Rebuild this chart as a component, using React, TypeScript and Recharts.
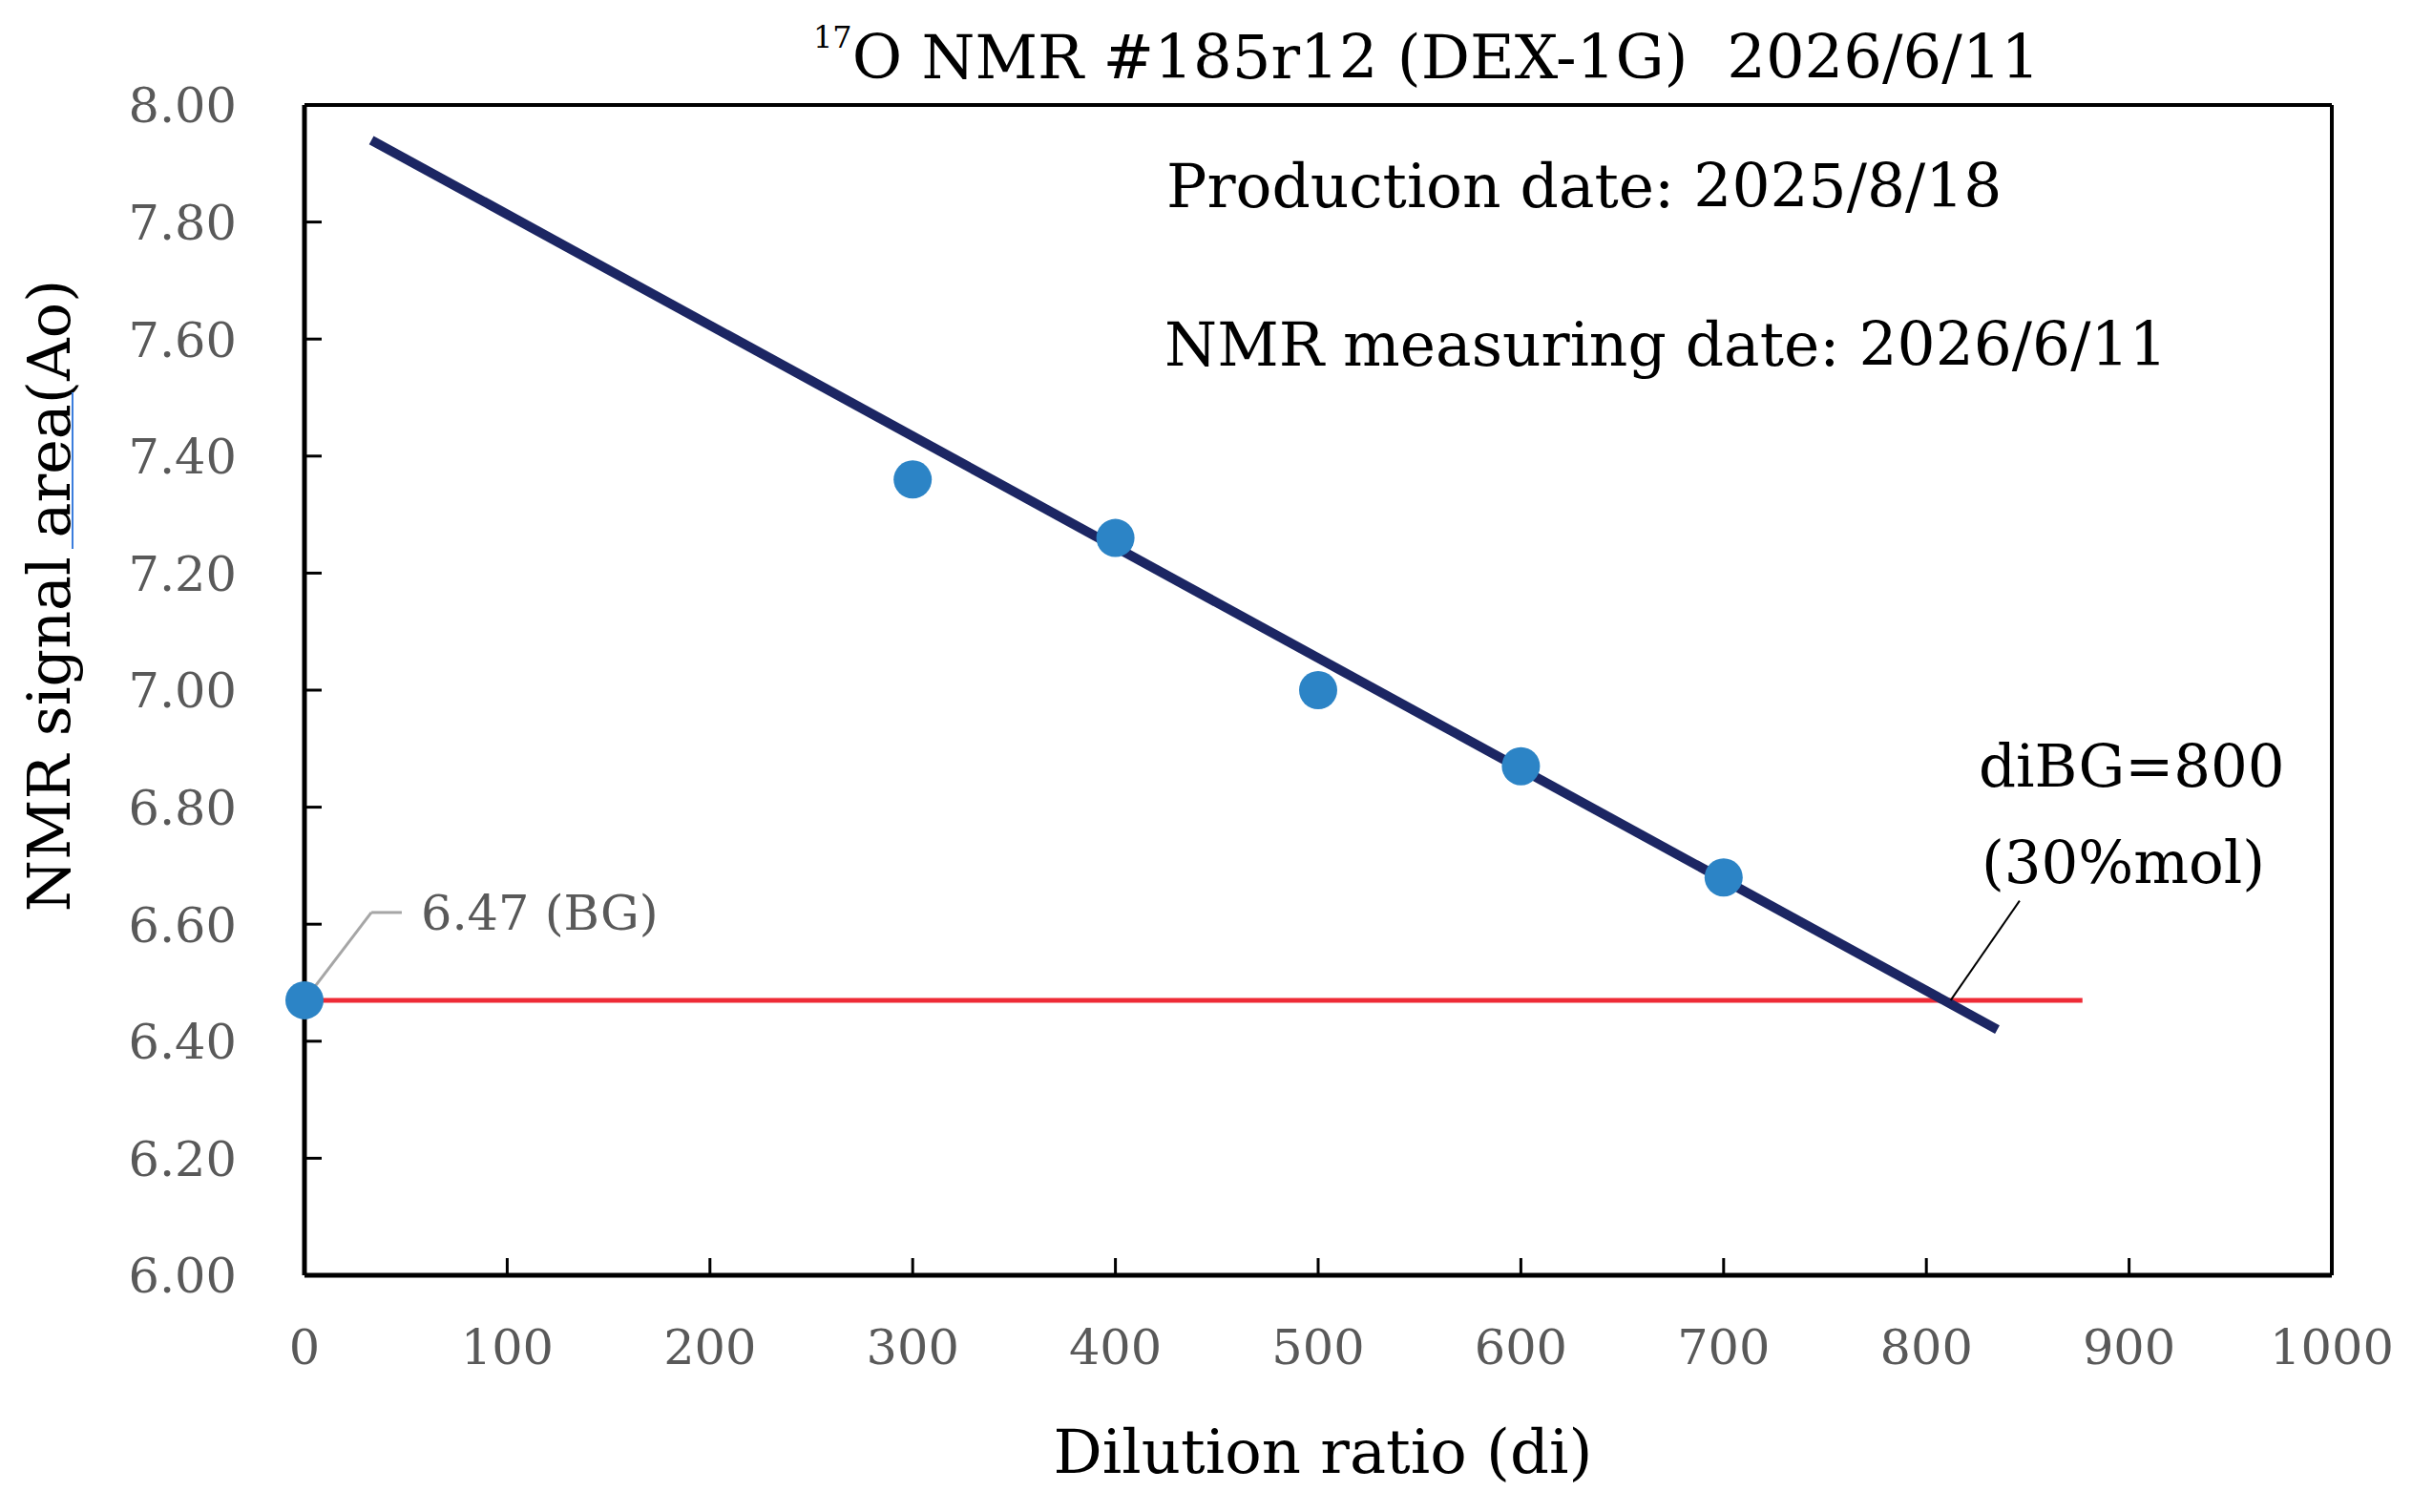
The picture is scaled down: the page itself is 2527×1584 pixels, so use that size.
import {
  ReferenceDot,
  ReferenceLine,
  Scatter,
  ScatterChart,
  XAxis,
  YAxis,
} from 'recharts';

// measured points: dilution ratio vs 17O NMR signal area
const dilution = [0, 300, 400, 500, 600, 700];
const signalArea = [6.47, 7.36, 7.26, 7.0, 6.87, 6.68];

// linear fit drawn between its two visible ends
const fitX = [33, 835];
const fitY = [7.94, 6.42];

// background level (BG) line
const bgX = [0, 877];
const bgLevel = 6.47;
const diBG = 812;

const xTicks = [0, 100, 200, 300, 400, 500, 600, 700, 800, 900, 1000];
const yTicks = [6.0, 6.2, 6.4, 6.6, 6.8, 7.0, 7.2, 7.4, 7.6, 7.8, 8.0];

const title = 'O NMR #185r12 (DEX-1G)  2026/6/11';
const productionDate = 'Production date: 2025/8/18';
const measuringDate = 'NMR measuring date: 2026/6/11';

const W = 2527;
const H = 1584;
const TOP = 110;
const RIGHT = 84;
const Y_AXIS_W = 319;
const X_AXIS_H = 248;
const TICK_LEN = 18;
const Y_TICK_MARGIN = 71;
const X_TICK_MARGIN = 57;
const FONT = '"DejaVu Serif", serif';

const points = dilution.map((x, i) => ({ x, y: signalArea[i] }));

const YTick = (props: any) => {
  const { x, y, payload } = props;
  const axisX = x + Y_TICK_MARGIN;
  const inner = payload.value > yTicks[0] && payload.value < yTicks[yTicks.length - 1];
  return (
    <g>
      {inner && (
        <line x1={axisX} x2={axisX + TICK_LEN} y1={y} y2={y} stroke="#000" strokeWidth={3} />
      )}
      <text x={x} y={y} dy="0.36em" textAnchor="end" fill="#595959" fontSize={51}>
        {Number(payload.value).toFixed(2)}
      </text>
    </g>
  );
};

const XTick = (props: any) => {
  const { x, y, payload } = props;
  const axisY = y - X_TICK_MARGIN;
  const inner = payload.value > xTicks[0] && payload.value < xTicks[xTicks.length - 1];
  return (
    <g>
      {inner && (
        <line x1={x} x2={x} y1={axisY} y2={axisY - TICK_LEN} stroke="#000" strokeWidth={3} />
      )}
      <text x={x} y={y} dy="0.71em" textAnchor="middle" fill="#595959" fontSize={51}>
        {payload.value}
      </text>
    </g>
  );
};

// two-line note next to the fit/BG crossing
const DiBGLabel = (props: any) => {
  const { viewBox } = props;
  const x = viewBox.x - 43;
  const y = viewBox.y;
  return (
    <text x={x} fill="#000" fontSize={61}>
      <tspan x={x} y={y - 120}>diBG=800</tspan>
      <tspan x={x + 3} y={y - 19}>(30%mol)</tspan>
    </text>
  );
};

const App = () => {
  return (
    <div
      style={{
        position: 'absolute',
        left: 0,
        top: 0,
        width: W,
        height: H,
        background: '#fff',
        fontFamily: FONT,
      }}
    >
      <ScatterChart
        width={W}
        height={H}
        margin={{ top: TOP, right: RIGHT, bottom: 0, left: 0 }}
        style={{ fontFamily: FONT }}
      >
        <XAxis
          type="number"
          dataKey="x"
          domain={[0, 1000]}
          ticks={xTicks}
          interval={0}
          height={X_AXIS_H}
          tickSize={0}
          tickLine={false}
          tickMargin={X_TICK_MARGIN}
          tick={<XTick />}
          axisLine={{ stroke: '#000', strokeWidth: 5 }}
        />
        <YAxis
          type="number"
          dataKey="y"
          domain={[6, 8]}
          ticks={yTicks}
          interval={0}
          width={Y_AXIS_W}
          tickSize={0}
          tickLine={false}
          tickMargin={Y_TICK_MARGIN}
          tick={<YTick />}
          axisLine={{ stroke: '#000', strokeWidth: 5 }}
        />

        {/* top and right edges of the plot frame */}
        <ReferenceLine y={8} stroke="#000" strokeWidth={4} ifOverflow="visible" />
        <ReferenceLine x={1000} stroke="#000" strokeWidth={4} ifOverflow="visible" />

        <ReferenceLine
          segment={[
            { x: bgX[0], y: bgLevel },
            { x: bgX[1], y: bgLevel },
          ]}
          stroke="#EE2B36"
          strokeWidth={5}
          ifOverflow="visible"
        />
        <Scatter
          data={points}
          isAnimationActive={false}
          shape={(p: any) => <circle cx={p.cx} cy={p.cy} r={20} fill="#2C84C6" />}
        />
        <ReferenceLine
          segment={[
            { x: fitX[0], y: fitY[0] },
            { x: fitX[1], y: fitY[1] },
          ]}
          stroke="#1C2663"
          strokeWidth={10}
          ifOverflow="visible"
        />

        {/* leader for the BG value */}
        <ReferenceLine
          segment={[
            { x: 0, y: bgLevel },
            { x: 33, y: 6.62 },
          ]}
          stroke="#A6A6A6"
          strokeWidth={3}
          ifOverflow="visible"
        />
        <ReferenceLine
          segment={[
            { x: 33, y: 6.62 },
            { x: 48, y: 6.62 },
          ]}
          stroke="#A6A6A6"
          strokeWidth={3}
          ifOverflow="visible"
        />
        <ReferenceDot
          x={48}
          y={6.62}
          r={0}
          fill="none"
          stroke="none"
          ifOverflow="visible"
          label={{
            value: `${bgLevel.toFixed(2)} (BG)`,
            position: 'right',
            offset: 20,
            fill: '#595959',
            fontSize: 51,
          }}
        />

        {/* leader for the diBG crossing */}
        <ReferenceLine
          segment={[
            { x: diBG, y: bgLevel },
            { x: 846, y: 6.64 },
          ]}
          stroke="#000"
          strokeWidth={2}
          ifOverflow="visible"
        />
        <ReferenceDot
          x={846}
          y={6.64}
          r={0}
          fill="none"
          stroke="none"
          ifOverflow="visible"
          label={<DiBGLabel />}
        />

        <text x={852} y={82} fontSize={64} fill="#000" style={{ whiteSpace: 'pre' }}>
          <tspan fontSize={32} dy={-32}>17</tspan>
          <tspan dy={32}>{title}</tspan>
        </text>
        <text x={1222} y={217} fontSize={63} fill="#000">
          {productionDate}
        </text>
        <text x={1220} y={383} fontSize={63} fill="#000">
          {measuringDate}
        </text>
        <text x={1386} y={1543} fontSize={64} fill="#000" textAnchor="middle">
          Dilution ratio (di)
        </text>
        <text
          x={73}
          y={624}
          fontSize={62}
          fill="#000"
          textAnchor="middle"
          transform="rotate(-90 73 624)"
        >
          NMR signal area(Ao)
        </text>
        <line x1={76} x2={76} y1={411} y2={575} stroke="#3B7DDD" strokeWidth={2} />
      </ScatterChart>
    </div>
  );
};

export default App;
